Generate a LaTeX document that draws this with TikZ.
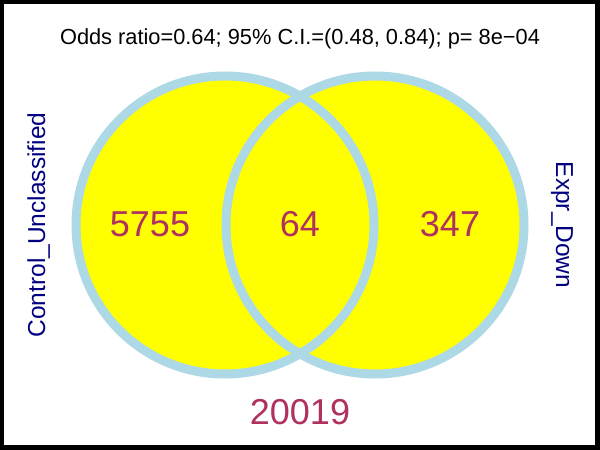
\documentclass[tikz,border=0pt]{standalone}
\usepackage{fontspec}
\setmainfont{Liberation Sans}
\usepackage{tikz}
\usetikzlibrary{positioning}
\definecolor{vennfill}{HTML}{FFFF00}
\definecolor{vennedge}{HTML}{ADD8E6}
\definecolor{countcol}{HTML}{B03060}
\definecolor{setcol}{HTML}{000080}

\begin{document}
\begin{tikzpicture}[x=1pt, y=1pt,
        count/.style={text=countcol, font=\fontsize{36}{36}\selectfont, inner sep=0pt, anchor=base},
        setname/.style={text=setcol, font=\fontsize{24.5}{24.5}\selectfont, inner sep=0pt, anchor=base},
        ring/.style={vennedge, line width=9pt}]
    \fill[black] (0,0) rectangle (600,450);
    \fill[white] (4,5) rectangle (595,446);
    \useasboundingbox (0,0) rectangle (600,450);

    \coordinate (cLeft) at (225,225);
    \coordinate (cRight) at (375,225);
    \fill[vennfill] (cLeft) circle (149pt);
    \fill[vennfill] (cRight) circle (149pt);
    \draw[ring] (cLeft) circle (149pt);
    \draw[ring] (cRight) circle (149pt);

    \node[inner sep=0pt, anchor=base, font=\fontsize{21.8}{22}\selectfont] (title) at (300,405) {Odds ratio=0.64; 95\% C.I.=(0.48, 0.84); p= 8e−04};

    \node[count] (leftOnly) at (150,213) {5755};
    \node[count] (both) at (300,213) {64};
    \node[count] (rightOnly) at (450,213) {347};
    \node[count] (outside) at (300,25) {20019};

    \node[setname, rotate=90] (leftSet) at (45,225) {Control\_Unclassified};
    \node[setname, rotate=-90] (rightSet) at (556,225) {Expr\_Down};
\end{tikzpicture}
\end{document}
